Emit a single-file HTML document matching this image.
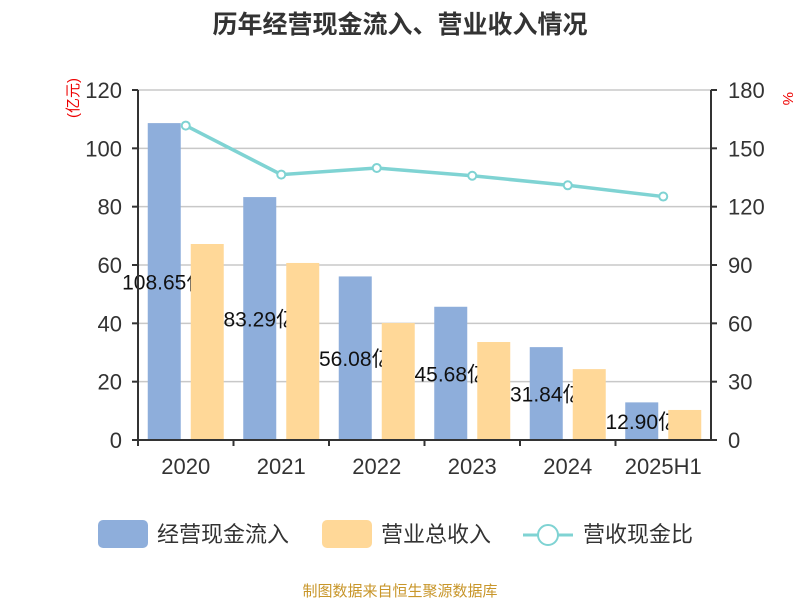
<!DOCTYPE html>
<html><head><meta charset="utf-8"><style>body{margin:0;background:#fff}svg{display:block;font-family:"Liberation Sans","Noto Sans CJK SC",sans-serif}</style></head>
<body>
<svg id="c" width="800" height="600">
<text x="400" y="33" text-anchor="middle" font-size="25" font-weight="bold" fill="#333">历年经营现金流入、营业收入情况</text>
<text x="78" y="118" font-size="15" fill="#e00" transform="rotate(-90 78 118)">(亿元)</text>
<text x="783" y="92" font-size="15" fill="#e00" transform="rotate(90 783 92)">%</text>
<g id="grid"></g><g id="bars"></g><g id="axes"></g><g id="line"></g>
<g>
<rect x="98" y="520" width="50" height="28" rx="5" fill="#8eaedb"/>
<text x="157" y="542" font-size="22" fill="#333">经营现金流入</text>
<rect x="322" y="520" width="50" height="28" rx="5" fill="#ffd898"/>
<text x="381" y="542" font-size="22" fill="#333">营业总收入</text>
<line x1="523" y1="535" x2="573" y2="535" stroke="#7fd3d3" stroke-width="3"/>
<circle cx="548" cy="535" r="10" fill="#fff" stroke="#7fd3d3" stroke-width="2"/>
<text x="583" y="542" font-size="22" fill="#333">营收现金比</text>
</g>
<text x="400" y="596" text-anchor="middle" font-size="15" fill="#c8962a">制图数据来自恒生聚源数据库</text>
</svg>
<script>
const categories=["2020","2021","2022","2023","2024","2025H1"];
const cashIn=[108.65,83.29,56.08,45.68,31.84,12.90];
const revenue=[67.2,60.7,40.1,33.6,24.3,10.3];
const ratio=[161.7,136.5,139.9,135.9,131.0,125.2];
const leftTicks=[0,20,40,60,80,100,120];
const rightTicks=[0,30,60,90,120,150,180];
const NS="http://www.w3.org/2000/svg";
const X0=138,X1=711,Y0=440,Y1=90;
const yL=v=>Y0-(v/120)*(Y0-Y1);
const yR=v=>Y0-(v/180)*(Y0-Y1);
const bw=(X1-X0)/categories.length;
const xc=i=>X0+bw*(i+0.5);
function mk(p,tag,a){const e=document.createElementNS(NS,tag);for(const k in a)e.setAttribute(k,a[k]);document.getElementById(p).appendChild(e);return e;}
leftTicks.forEach((t,i)=>{
 let g=mk("grid","line",{x1:X0,x2:X1,y1:yL(t),y2:yL(t),stroke:"#c8c8c8","stroke-width":1.5});
 
 
 let a=mk("axes","text",{x:122,y:yL(t)+8,"text-anchor":"end","font-size":22,fill:"#333"});a.textContent=t;
 
 
 mk("axes","line",{x1:X0-6,x2:X0,y1:yL(t),y2:yL(t),stroke:"#333","stroke-width":2});
});
rightTicks.forEach(t=>{
 let a=mk("axes","text",{x:728,y:yR(t)+8,"font-size":22,fill:"#333"});a.textContent=t;
 
 
 mk("axes","line",{x1:X1,x2:X1+6,y1:yR(t),y2:yR(t),stroke:"#333","stroke-width":2});
});
mk("axes","line",{x1:X0,x2:X0,y1:Y1,y2:Y0,stroke:"#333","stroke-width":2});
mk("axes","line",{x1:X1,x2:X1,y1:Y1,y2:Y0,stroke:"#333","stroke-width":2});
categories.forEach((c,i)=>{
 mk("axes","line",{x1:X0+bw*i,x2:X0+bw*i,y1:Y0,y2:Y0+6,stroke:"#333","stroke-width":2});
 let t=mk("axes","text",{x:xc(i),y:474,"text-anchor":"middle","font-size":22,fill:"#333"});t.textContent=c;
 
 
 let b=mk("bars","rect",{x:xc(i)-38,y:yL(cashIn[i]),width:33,height:Y0-yL(cashIn[i]),fill:"#8eaedb"});
 
 
 let l=mk("bars","text",{x:xc(i)-21,y:(yL(cashIn[i])+Y0)/2+8,"text-anchor":"middle","font-size":21,fill:"#111"});l.textContent=cashIn[i].toFixed(2)+"亿";
 
 
});
categories.forEach((c,i)=>{
 let b=mk("bars","rect",{x:xc(i)+5,y:yL(revenue[i]),width:33,height:Y0-yL(revenue[i]),fill:"#ffd898"});
 
 
});
mk("axes","line",{x1:X0,x2:X1,y1:Y0,y2:Y0,stroke:"#333","stroke-width":2});
let pl=mk("line","polyline",{points:ratio.map((v,i)=>xc(i)+","+yR(v)).join(" "),fill:"none",stroke:"#7fd3d3","stroke-width":3.5});


ratio.forEach((v,i)=>{
 let p=mk("line","circle",{cx:xc(i),cy:yR(v),r:4,fill:"#fff",stroke:"#7fd3d3","stroke-width":2});
 
 
});
</script>
</body></html>
